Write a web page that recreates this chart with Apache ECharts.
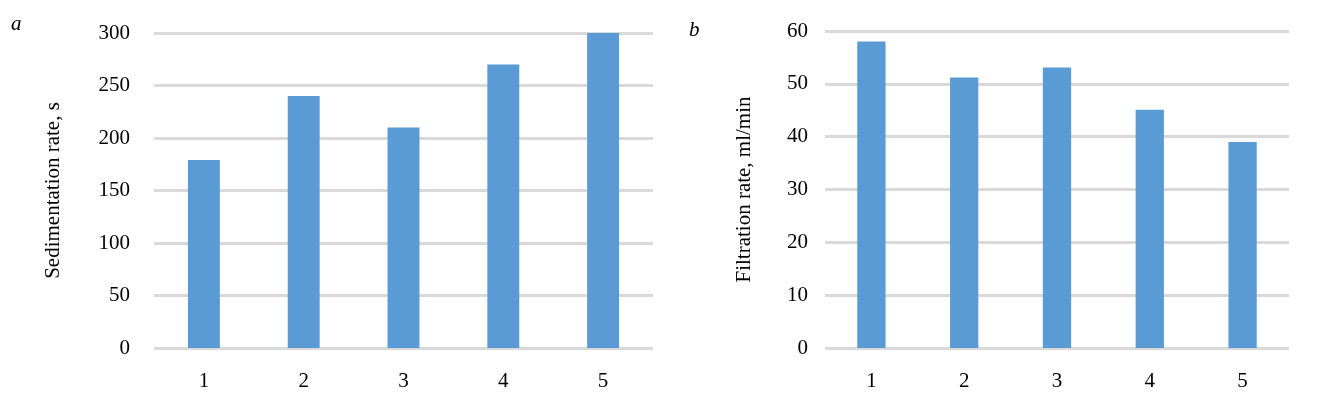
<!DOCTYPE html>
<html>
<head>
<meta charset="utf-8">
<script src="https://cdn.jsdelivr.net/npm/echarts@6/dist/echarts.min.js"></script>
<style>
  html, body { margin: 0; padding: 0; background: #fff; }
  #chart { width: 1318px; height: 408px; }
</style>
</head>
<body>
<div id="chart"></div>
<script>
// data
const categories = ['1', '2', '3', '4', '5']
const sedimentation = [179, 240, 210, 270, 300]
const filtration = [58, 51.2, 53.1, 45.1, 39]

const FONT = '"Liberation Serif", "Times New Roman", serif'
const BAR = '#5b9bd5'
const GRID = '#d9d9d9'

const chart = echarts.init(document.getElementById('chart'))

function xAxisFor(gridIndex) {
  return {
    type: 'category',
    gridIndex: gridIndex,
    data: categories,
    axisLine: { show: false },
    axisTick: { show: false },
    axisLabel: { margin: 23, fontSize: 21, fontFamily: FONT, color: '#000' }
  }
}

function yAxisFor(gridIndex, max, interval, name, gap, labelMargin) {
  return {
    type: 'value',
    gridIndex: gridIndex,
    min: 0,
    max: max,
    interval: interval,
    name: name,
    nameLocation: 'middle',
    nameGap: gap,
    nameTextStyle: { fontSize: 21, fontFamily: FONT, color: '#000' },
    axisLine: { show: false },
    axisTick: { show: false },
    axisLabel: { margin: labelMargin, fontSize: 21, fontFamily: FONT, color: '#000' },
    splitLine: { show: true, lineStyle: { color: GRID, width: 3 } }
  }
}

const option = {
  backgroundColor: '#fff',
  animation: false,
  title: [
    { text: 'a', left: 6, top: 9, textStyle: { fontSize: 21, fontFamily: FONT, fontStyle: 'italic', fontWeight: 'normal', color: '#000' } },
    { text: 'b', left: 684, top: 15, textStyle: { fontSize: 21, fontFamily: FONT, fontStyle: 'italic', fontWeight: 'normal', color: '#000' } }
  ],
  grid: [
    { left: 154, top: 33, width: 499, height: 315 },
    { left: 825, top: 31, width: 464, height: 317 }
  ],
  xAxis: [xAxisFor(0), xAxisFor(1)],
  yAxis: [
    yAxisFor(0, 300, 50, 'Sedimentation rate, s', 90, 24),
    yAxisFor(1, 60, 10, 'Filtration rate, ml/min', 70, 17)
  ],
  series: [
    {
      type: 'bar',
      xAxisIndex: 0,
      yAxisIndex: 0,
      data: sedimentation,
      barWidth: '32%',
      itemStyle: { color: BAR }
    },
    {
      type: 'bar',
      xAxisIndex: 1,
      yAxisIndex: 1,
      data: filtration,
      barWidth: '30.5%',
      itemStyle: { color: BAR }
    }
  ]
}

chart.setOption(option)
</script>
</body>
</html>
